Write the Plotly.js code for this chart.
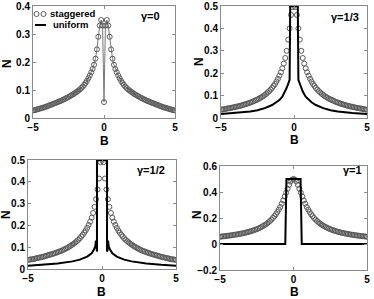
<!DOCTYPE html>
<html><head><meta charset="utf-8">
<script src="https://cdn.plot.ly/plotly-3.0.1.min.js"></script>
<style>html,body{margin:0;padding:0;background:#fff}#c{width:374px;height:299px}</style>
</head><body><div id="c"></div>
<script>
// Field values B (shared by all staggered series)
const B = [-5.0,-4.9,-4.8,-4.7,-4.6,-4.5,-4.4,-4.3,-4.2,-4.1,-4.0,-3.9,-3.8,-3.7,-3.6,-3.5,-3.4,-3.3,-3.2,-3.1,-3.0,-2.9,-2.8,-2.7,-2.6,-2.5,-2.4,-2.3,-2.2,-2.1,-2.0,-1.9,-1.8,-1.7,-1.6,-1.5,-1.4,-1.3,-1.2,-1.1,-1.0,-0.9,-0.8,-0.7,-0.6,-0.5,-0.4,-0.3,-0.2,-0.1,0.0,0.1,0.2,0.3,0.4,0.5,0.6,0.7,0.8,0.9,1.0,1.1,1.2,1.3,1.4,1.5,1.6,1.7,1.8,1.9,2.0,2.1,2.2,2.3,2.4,2.5,2.6,2.7,2.8,2.9,3.0,3.1,3.2,3.3,3.4,3.5,3.6,3.7,3.8,3.9,4.0,4.1,4.2,4.3,4.4,4.5,4.6,4.7,4.8,4.9,5.0];

// staggered, gamma = 0
const stag0 = [0.027,0.028,0.029,0.031,0.032,0.034,0.035,0.037,0.038,0.040,0.042,0.044,0.046,0.048,0.050,0.052,0.054,0.056,0.058,0.060,0.062,0.065,0.067,0.070,0.072,0.075,0.078,0.081,0.084,0.087,0.091,0.094,0.098,0.102,0.107,0.112,0.118,0.125,0.133,0.142,0.152,0.163,0.175,0.190,0.212,0.245,0.290,0.330,0.350,0.330,0.057,0.330,0.350,0.330,0.290,0.245,0.212,0.190,0.175,0.163,0.152,0.142,0.133,0.125,0.118,0.112,0.107,0.102,0.098,0.094,0.091,0.087,0.084,0.081,0.078,0.075,0.072,0.070,0.067,0.065,0.062,0.060,0.058,0.056,0.054,0.052,0.050,0.048,0.046,0.044,0.042,0.040,0.038,0.037,0.035,0.034,0.032,0.031,0.029,0.028,0.027];

// staggered, gamma = 1/3
const stag13 = [0.037,0.038,0.039,0.040,0.042,0.043,0.044,0.045,0.047,0.048,0.050,0.051,0.053,0.054,0.056,0.058,0.060,0.062,0.064,0.066,0.069,0.071,0.074,0.077,0.080,0.083,0.086,0.090,0.094,0.098,0.103,0.108,0.114,0.120,0.127,0.134,0.143,0.152,0.163,0.175,0.189,0.204,0.222,0.243,0.268,0.300,0.350,0.400,0.460,0.495,0.500,0.495,0.460,0.400,0.350,0.300,0.268,0.243,0.222,0.204,0.189,0.175,0.163,0.152,0.143,0.134,0.127,0.120,0.114,0.108,0.103,0.098,0.094,0.090,0.086,0.083,0.080,0.077,0.074,0.071,0.069,0.066,0.064,0.062,0.060,0.058,0.056,0.054,0.053,0.051,0.050,0.048,0.047,0.045,0.044,0.043,0.042,0.040,0.039,0.038,0.037];

// staggered, gamma = 1/2
const stag12 = [0.042,0.043,0.044,0.045,0.046,0.048,0.050,0.051,0.053,0.054,0.056,0.058,0.060,0.062,0.064,0.066,0.068,0.070,0.072,0.075,0.077,0.080,0.082,0.085,0.088,0.092,0.095,0.099,0.103,0.107,0.112,0.117,0.122,0.128,0.134,0.141,0.149,0.157,0.167,0.177,0.189,0.202,0.217,0.235,0.257,0.285,0.320,0.365,0.415,0.490,0.500,0.490,0.415,0.365,0.320,0.285,0.257,0.235,0.217,0.202,0.189,0.177,0.167,0.157,0.149,0.141,0.134,0.128,0.122,0.117,0.112,0.107,0.103,0.099,0.095,0.092,0.088,0.085,0.082,0.080,0.077,0.075,0.072,0.070,0.068,0.066,0.064,0.062,0.060,0.058,0.056,0.054,0.053,0.051,0.050,0.048,0.046,0.045,0.044,0.043,0.042];

// staggered, gamma = 1
const stag1 = [0.056,0.057,0.059,0.060,0.061,0.063,0.064,0.066,0.067,0.069,0.071,0.073,0.075,0.077,0.079,0.081,0.084,0.086,0.089,0.092,0.095,0.098,0.102,0.106,0.110,0.114,0.119,0.124,0.130,0.136,0.143,0.150,0.158,0.167,0.177,0.188,0.200,0.214,0.229,0.246,0.265,0.285,0.310,0.335,0.365,0.395,0.425,0.455,0.480,0.495,0.500,0.495,0.480,0.455,0.425,0.395,0.365,0.335,0.310,0.285,0.265,0.246,0.229,0.214,0.200,0.188,0.177,0.167,0.158,0.150,0.143,0.136,0.130,0.124,0.119,0.114,0.110,0.106,0.102,0.098,0.095,0.092,0.089,0.086,0.084,0.081,0.079,0.077,0.075,0.073,0.071,0.069,0.067,0.066,0.064,0.063,0.061,0.060,0.059,0.057,0.056];

// uniform field curves
const uB13 = [-5,-4,-3,-2.5,-2,-1.5,-1.2,-1,-0.8,-0.6,-0.5,-0.4,-0.3,-0.26,0.26,0.3,0.4,0.5,0.6,0.8,1,1.2,1.5,2,2.5,3,4,5];
const uN13 = [0.018,0.022,0.029,0.035,0.044,0.058,0.07,0.08,0.095,0.118,0.135,0.152,0.17,0.5,0.5,0.17,0.152,0.135,0.118,0.095,0.08,0.07,0.058,0.044,0.035,0.029,0.022,0.018];

const uB12 = [-5,-4,-3,-2,-1.5,-1,-0.7,-0.55,-0.45,-0.41,-0.37,-0.34,-0.34,0.34,0.34,0.37,0.41,0.45,0.55,0.7,1,1.5,2,3,4,5];
const uN12 = [0.015,0.019,0.025,0.035,0.043,0.057,0.072,0.088,0.105,0.13,0.085,0.08,0.5,0.5,0.08,0.085,0.13,0.105,0.088,0.072,0.057,0.043,0.035,0.025,0.019,0.015];

const uB1 = [-5,-0.56,-0.48,0.48,0.56,5];
const uN1 = [0,0,0.5,0.5,0,0];

const gammaLabels = ['γ=0','γ=1/3','γ=1/2','γ=1'];
const legendLabels = ['staggered','uniform'];

const grayMk = '#5a5a5a';
const stagMarker = {symbol:'circle-open', size:5, color:grayMk, line:{width:1, color:grayMk}};
const traces = [
  {x:B, y:stag0, xaxis:'x', yaxis:'y', mode:'lines+markers', marker:stagMarker, line:{color:'#777', width:1}},
  {x:B, y:stag13, xaxis:'x2', yaxis:'y2', mode:'markers', marker:stagMarker},
  {x:uB13, y:uN13, xaxis:'x2', yaxis:'y2', mode:'lines', line:{color:'#000', width:2}},
  {x:B, y:stag12, xaxis:'x3', yaxis:'y3', mode:'markers', marker:stagMarker},
  {x:uB12, y:uN12, xaxis:'x3', yaxis:'y3', mode:'lines', line:{color:'#000', width:2}},
  {x:B, y:stag1, xaxis:'x4', yaxis:'y4', mode:'markers', marker:stagMarker},
  {x:uB1, y:uN1, xaxis:'x4', yaxis:'y4', mode:'lines', line:{color:'#000', width:2}}
];

const FF = 'Liberation Sans, Arial, sans-serif';
const tf = {family:FF, size:10, color:'#000', weight:'bold'};
function ax(dom, range, tickvals, anchor){
  return {domain:dom, range:range, tickvals:tickvals, anchor:anchor, showline:true, linecolor:'#8a8a8a', linewidth:1,
    mirror:'ticks', ticks:'inside', ticklen:3, tickcolor:'#8a8a8a', showgrid:false, zeroline:false, tickfont:tf, fixedrange:true};
}
const W=374, H=299;
function dx(a,b){return [a/W,b/W];}
function dy(top,bot){return [1-bot/H,1-top/H];}
function px(x){return x/W;}
function py(y){return 1-y/H;}

const layout = {
  width:W, height:H, margin:{l:0,r:0,t:0,b:0}, paper_bgcolor:'#fff', plot_bgcolor:'#fff', showlegend:false,
  font:{family:FF, color:'#000'},
  xaxis: ax(dx(33,175), [-5,5], [-5,0,5], 'y'),
  yaxis: ax(dy(6,118), [0,0.4], [0,0.1,0.2,0.3,0.4], 'x'),
  xaxis2: ax(dx(221,367), [-5,5], [-5,0,5], 'y2'),
  yaxis2: ax(dy(6,118), [0,0.5], [0,0.1,0.2,0.3,0.4,0.5], 'x2'),
  xaxis3: ax(dx(28,176), [-5,5], [-5,0,5], 'y3'),
  yaxis3: ax(dy(160,269), [0,0.5], [0,0.1,0.2,0.3,0.4,0.5], 'x3'),
  xaxis4: ax(dx(220,367), [-5,5], [-5,0,5], 'y4'),
  yaxis4: ax(dy(166,270), [-0.2,0.6], [-0.2,0,0.2,0.4,0.6], 'x4'),
  annotations:[],
  shapes:[
    // legend keys (panel 1)
    {type:'circle', xref:'paper', yref:'paper', x0:px(34), x1:px(39), y0:py(16.5), y1:py(11.5), line:{color:grayMk,width:1}},
    {type:'circle', xref:'paper', yref:'paper', x0:px(41), x1:px(46), y0:py(16.5), y1:py(11.5), line:{color:grayMk,width:1}},
    {type:'line', xref:'paper', yref:'paper', x0:px(35), x1:px(46), y0:py(25), y1:py(25), line:{color:'#000',width:2}}
  ]
};
const lf = {family:FF, size:12, color:'#000', weight:'bold'};
const bPos = [[104,141],[294,140],[102,292],[294,292]];
const nPos = [[7,63],[199,62],[6,215],[197,215]];
const gPos = [[150,16],[345,17],[151,170],[352,170]];
for(let i=0;i<4;i++){
  layout.annotations.push({xref:'paper',yref:'paper',x:px(bPos[i][0]),y:py(bPos[i][1]),text:'B',showarrow:false,font:lf,xanchor:'center',yanchor:'middle'});
  layout.annotations.push({xref:'paper',yref:'paper',x:px(nPos[i][0]),y:py(nPos[i][1]),text:'N',showarrow:false,font:lf,textangle:-90,xanchor:'center',yanchor:'middle'});
  layout.annotations.push({xref:'paper',yref:'paper',x:px(gPos[i][0]),y:py(gPos[i][1]),text:gammaLabels[i],showarrow:false,font:{family:FF, size:11, color:'#000', weight:'bold'},xanchor:'center',yanchor:'middle'});
}
layout.annotations.push({xref:'paper',yref:'paper',x:px(48),y:py(14),text:legendLabels[0],showarrow:false,font:{family:FF,size:9.5,color:'#000',weight:'bold'},xanchor:'left',yanchor:'middle'});
layout.annotations.push({xref:'paper',yref:'paper',x:px(51),y:py(25),text:legendLabels[1],showarrow:false,font:{family:FF,size:9.5,color:'#000',weight:'bold'},xanchor:'left',yanchor:'middle'});
Plotly.newPlot('c', traces, layout, {staticPlot:true, displayModeBar:false});
</script></body></html>
